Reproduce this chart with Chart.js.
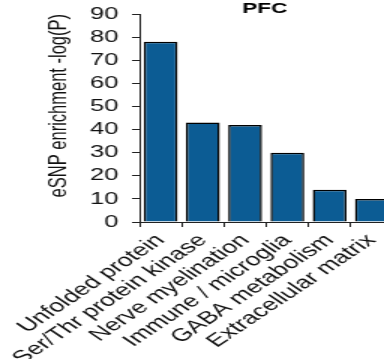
<!DOCTYPE html>
<html><head><meta charset="utf-8">
<script src="https://cdn.jsdelivr.net/npm/chart.js@4/dist/chart.umd.min.js"></script>
<style>
html,body{margin:0;padding:0;overflow:hidden;background:#fff;width:384px;height:359px}
#wrap{position:absolute;left:0;top:0;width:266px;height:359px;transform:scaleX(1.5);transform-origin:0 0}
</style></head><body>
<div id="wrap"><canvas id="c" width="266" height="359"></canvas></div>
<script>
const categories = ['Unfolded protein', 'Ser/Thr protein kinase', 'Nerve myelination', 'Immune / microglia', 'GABA metabolism', 'Extracellular matrix'];
const enrichment = [78, 43, 42, 30, 14, 10];
const yMin = 0, yMax = 90, yStep = 10;
const chartTitle = 'PFC';
const yAxisTitle = 'eSNP enrichment -log(P)';

const FONT = '"Liberation Sans", Arial, sans-serif';

const titlePlugin = {
  id: 'panelTitle',
  afterDraw(chart) {
    const ctx = chart.ctx, ca = chart.chartArea;
    ctx.save();
    ctx.font = 'bold 15px ' + FONT;
    ctx.textAlign = 'center';
    ctx.textBaseline = 'middle';
    ctx.fillStyle = '#000';
    ctx.fillText(chartTitle, (ca.left + ca.right) / 2 - 1, 9);
    ctx.restore();
  }
};

new Chart(document.getElementById('c'), {
  type: 'bar',
  data: {
    labels: categories,
    datasets: [{
      data: enrichment,
      backgroundColor: '#0c5c94',
      borderColor: '#000',
      borderWidth: 1.5,
      barPercentage: 0.8,
      categoryPercentage: 1.0
    }]
  },
  options: {
    responsive: false,
    animation: false,
    devicePixelRatio: 1,
    layout: { padding: { top: 14, left: 0, right: 0, bottom: 0 } },
    plugins: { legend: { display: false }, tooltip: { enabled: false } },
    scales: {
      y: {
        min: yMin, max: yMax,
        ticks: { stepSize: yStep, autoSkip: false, font: { family: FONT, size: 17 }, color: '#111', padding: 9 },
        grid: { drawOnChartArea: false, tickLength: 5, color: '#222' },
        border: { color: '#222', width: 1 },
        title: { display: true, text: yAxisTitle, align: 'end', font: { family: FONT, size: 16.5 }, color: '#111', padding: { top: 30, bottom: 0 } },
        afterFit(s) { s.width = 93; s.paddingTop = 0; s.paddingBottom = 0; }
      },
      x: {
        ticks: { autoSkip: false, minRotation: 45, maxRotation: 45, font: { family: FONT, size: 17.8 }, color: '#111', padding: 3 },
        grid: { drawOnChartArea: false, tickLength: 5, color: '#222', offset: true },
        border: { color: '#222', width: 1 },
        afterFit(s) { s.height = 137; }
      }
    }
  },
  plugins: [titlePlugin]
});
</script>
</body></html>
